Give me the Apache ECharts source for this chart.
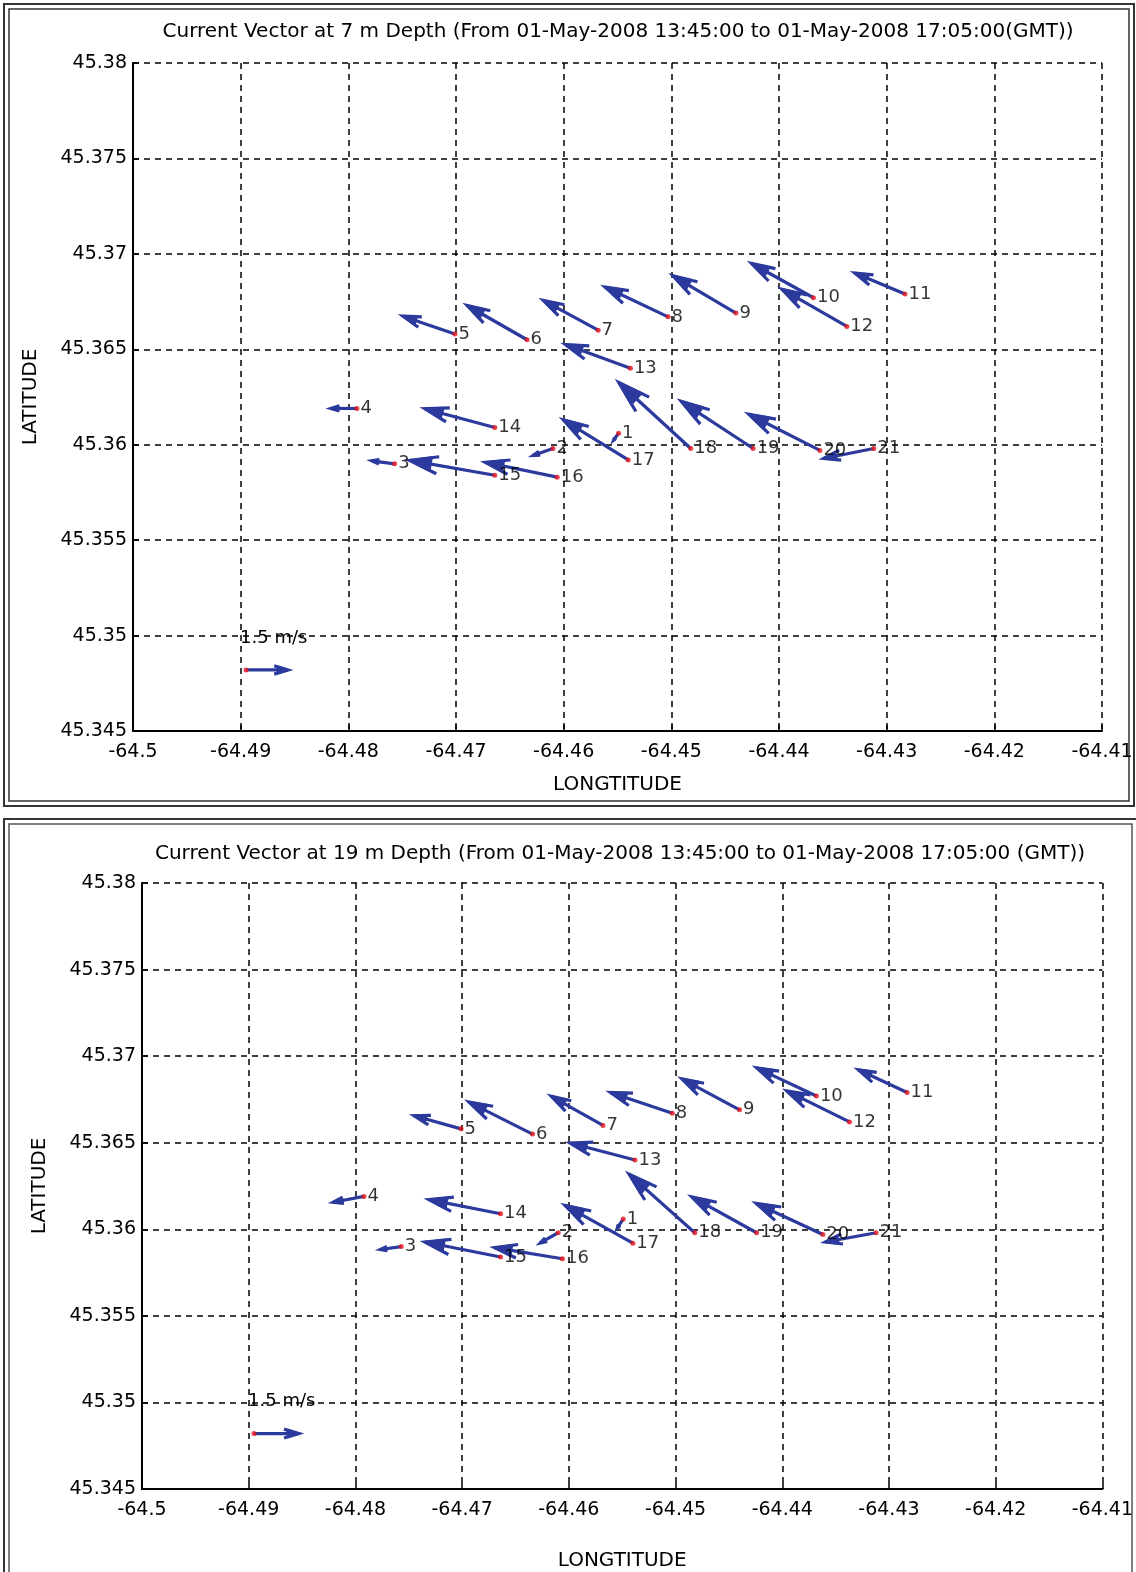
<!DOCTYPE html>
<html>
<head>
<meta charset="utf-8">
<script src="https://cdn.jsdelivr.net/npm/echarts@6/dist/echarts.min.js"></script>
<style>
  html, body { margin: 0; padding: 0; background: #ffffff; }
  #chart { width: 1136px; height: 1572px; }
</style>
</head>
<body>
<div id="chart"></div>
<script>
// ADCP station positions (decimal degrees)
const STATION_IDS = ['1','2','3','4','5','6','7','8','9','10','11','12','13','14','15','16','17','18','19','20','21'];
const STATION_LON = [-64.4549, -64.4610, -64.4757, -64.4792, -64.4701, -64.4634, -64.4568, -64.4503, -64.4440, -64.4368,
                     -64.4283, -64.4337, -64.4538, -64.4664, -64.4664, -64.4606, -64.4540, -64.4482, -64.4424, -64.4362, -64.4312];
const STATION_LAT = [45.3606, 45.3598, 45.3590, 45.3619, 45.3658, 45.3655, 45.3660, 45.3667, 45.3669, 45.3677,
                     45.3679, 45.3662, 45.3640, 45.3609, 45.3584, 45.3583, 45.3592, 45.3598, 45.3598, 45.3597, 45.3598];

// Mean current components at 7 m depth (m/s, east / north)
const U_7M = [-0.18, -0.71, -0.82, -0.93, -1.86, -2.14, -1.96, -2.25, -2.25, -2.21,
              -1.79, -2.32, -2.32, -2.50, -3.04, -2.57, -2.32, -2.57, -2.57, -2.54, -1.79];
const V_7M = [-0.14, -0.14, 0.06, 0.00, 0.36, 0.69, 0.60, 0.60, 0.75, 0.69,
              0.42, 0.75, 0.48, 0.38, 0.30, 0.30, 0.81, 1.33, 0.95, 0.73, -0.20];

// Mean current components at 19 m depth (m/s, east / north)
const U_19M = [-0.20, -0.60, -0.70, -1.03, -1.57, -2.13, -1.73, -2.07, -1.93, -2.00,
               -1.63, -2.10, -2.17, -2.40, -2.53, -2.27, -2.27, -2.20, -2.17, -2.23, -1.70];
const V_19M = [-0.19, -0.21, -0.06, -0.12, 0.27, 0.66, 0.60, 0.43, 0.64, 0.58,
               0.47, 0.64, 0.35, 0.29, 0.31, 0.23, 0.78, 1.21, 0.74, 0.64, -0.19];

// Reference vector
const REF_SPEED = 1.5;
const REF_LON = -64.4895;
const REF_LAT = 45.3482;
const REF_LABEL = '1.5 m/s';

// Axes
const LON_MIN = -64.5, LON_MAX = -64.41, LON_STEP = 0.01;
const LAT_MIN = 45.345, LAT_MAX = 45.38, LAT_STEP = 0.005;

const TITLES = [
  'Current Vector at 7 m Depth (From 01-May-2008 13:45:00 to 01-May-2008 17:05:00(GMT))',
  'Current Vector at 19 m Depth (From 01-May-2008 13:45:00 to 01-May-2008 17:05:00 (GMT))'
];

// Vector scale of each panel: degrees of arc per m/s
const VEC_SCALE = [0.0026, 0.0028];

const FONT = '"DejaVu Sans", "Liberation Sans", sans-serif';
const ARROW_COLOR = '#2b3a9c';
const DOT_COLOR = '#e3141c';

function fmtTick(v) { return String(parseFloat(Number(v).toFixed(4))); }

// Quiver arrow: shaft from station to station + scale * (u, v), solid wedge head
function quiverRender(scale, withLabel) {
  return function (params, api) {
    const lon = api.value(0), lat = api.value(1), u = api.value(2), v = api.value(3);
    const p0 = api.coord([lon, lat]);
    const p1 = api.coord([lon + scale * u, lat + scale * v]);
    const dx = p1[0] - p0[0], dy = p1[1] - p0[1];
    const L = Math.hypot(dx, dy) || 1;
    const ux = dx / L, uy = dy / L, nx = -uy, ny = ux;
    const hl = 0.33 * L, hw = 0.10 * L;
    const base = [p1[0] - hl * ux, p1[1] - hl * uy];
    const b1 = [base[0] + hw * nx, base[1] + hw * ny];
    const b2 = [base[0] - hw * nx, base[1] - hw * ny];
    const m1 = [p1[0] - 0.75 * hl * ux + 0.8 * hw * nx, p1[1] - 0.75 * hl * uy + 0.8 * hw * ny];
    const m2 = [p1[0] - 0.75 * hl * ux - 0.8 * hw * nx, p1[1] - 0.75 * hl * uy - 0.8 * hw * ny];
    const children = [
      { type: 'line', shape: { x1: p0[0], y1: p0[1], x2: p1[0], y2: p1[1] },
        style: { stroke: ARROW_COLOR, lineWidth: 3.2 } },
      { type: 'polyline', shape: { points: [b1, p1, b2] },
        style: { stroke: ARROW_COLOR, lineWidth: 3.2, fill: 'none' } },
      { type: 'polygon', shape: { points: [p1, m1, m2] },
        style: { fill: ARROW_COLOR, stroke: ARROW_COLOR, lineWidth: 2, lineJoin: 'round' } }
    ];
    if (withLabel) {
      children.push({ type: 'text', x: p0[0] - 6, y: p0[1] - 32,
        style: { text: withLabel, font: '18px ' + FONT, fill: '#000', align: 'left', verticalAlign: 'middle' } });
    }
    return { type: 'group', children: children };
  };
}

function axisPair(i, nameGapX, nameGapY) {
  const common = {
    gridIndex: i,
    type: 'value',
    axisLine: { show: true, lineStyle: { color: '#000', width: 2 } },
    axisTick: { show: true, inside: true, length: 6, lineStyle: { color: '#000', width: 1.5 } },
    splitLine: { show: true, lineStyle: { color: '#000', type: [6, 5], width: 1.5 } },
    axisLabel: { formatter: fmtTick, color: '#000', fontSize: 19, fontFamily: FONT },
    nameLocation: 'middle',
    nameTextStyle: { color: '#000', fontSize: 20, fontFamily: FONT }
  };
  const x = Object.assign({}, common, {
    min: LON_MIN, max: LON_MAX, interval: LON_STEP,
    name: 'LONGTITUDE', nameGap: nameGapX,
    axisLabel: Object.assign({}, common.axisLabel, { margin: 12 })
  });
  const y = Object.assign({}, common, {
    min: LAT_MIN, max: LAT_MAX, interval: LAT_STEP,
    name: 'LATITUDE', nameGap: nameGapY, nameRotate: 90,
    axisLabel: Object.assign({}, common.axisLabel, { margin: 6 })
  });
  return [x, y];
}

function stationData(U, V) {
  return STATION_IDS.map((id, k) => [STATION_LON[k], STATION_LAT[k], U[k], V[k], id]);
}

const ax0 = axisPair(0, 44, 92);
const ax1 = axisPair(1, 62, 92);

function panelSeries(i, U, V) {
  const data = stationData(U, V);
  return [
    { type: 'custom', xAxisIndex: i, yAxisIndex: i, renderItem: quiverRender(VEC_SCALE[i], null),
      data: data, z: 2, silent: true },
    { type: 'scatter', xAxisIndex: i, yAxisIndex: i, data: data, symbol: 'circle', symbolSize: 5,
      itemStyle: { color: DOT_COLOR }, z: 3, silent: true,
      label: { show: true, position: 'right', distance: 1, formatter: p => p.value[4],
               color: '#000', fontSize: 18, fontFamily: FONT } },
    { type: 'custom', xAxisIndex: i, yAxisIndex: i, renderItem: quiverRender(VEC_SCALE[i], REF_LABEL),
      data: [[REF_LON, REF_LAT, REF_SPEED, 0]], z: 2, silent: true },
    { type: 'scatter', xAxisIndex: i, yAxisIndex: i, data: [[REF_LON, REF_LAT]], symbolSize: 5,
      itemStyle: { color: DOT_COLOR }, z: 3, silent: true }
  ];
}

const option = {
  backgroundColor: '#ffffff',
  animation: false,
  title: [
    { text: TITLES[0], left: 618, top: 22, textAlign: 'center', padding: 0,
      textStyle: { fontSize: 20, fontWeight: 'normal', color: '#000', fontFamily: FONT } },
    { text: TITLES[1], left: 620, top: 844, textAlign: 'center', padding: 0,
      textStyle: { fontSize: 20, fontWeight: 'normal', color: '#000', fontFamily: FONT } }
  ],
  grid: [
    { left: 133, top: 63, width: 969, height: 668 },
    { left: 142, top: 883, width: 964, height: 607 }
  ],
  xAxis: [ax0[0], ax1[0]],
  yAxis: [ax0[1], ax1[1]],
  graphic: [
    { type: 'rect', shape: { x: 4, y: 4, width: 1130, height: 802 }, style: { fill: 'none', stroke: '#333', lineWidth: 2 }, silent: true },
    { type: 'rect', shape: { x: 9, y: 9, width: 1120, height: 792 }, style: { fill: 'none', stroke: '#333', lineWidth: 1.5 }, silent: true },
    { type: 'rect', shape: { x: 4, y: 819, width: 1150, height: 800 }, style: { fill: 'none', stroke: '#333', lineWidth: 2 }, silent: true },
    { type: 'rect', shape: { x: 9, y: 824, width: 1123, height: 800 }, style: { fill: 'none', stroke: '#555', lineWidth: 1.5 }, silent: true }
  ],
  series: [].concat(panelSeries(0, U_7M, V_7M), panelSeries(1, U_19M, V_19M))
};

const chart = echarts.init(document.getElementById('chart'), null, { renderer: 'canvas' });
chart.setOption(option);
</script>
</body>
</html>
